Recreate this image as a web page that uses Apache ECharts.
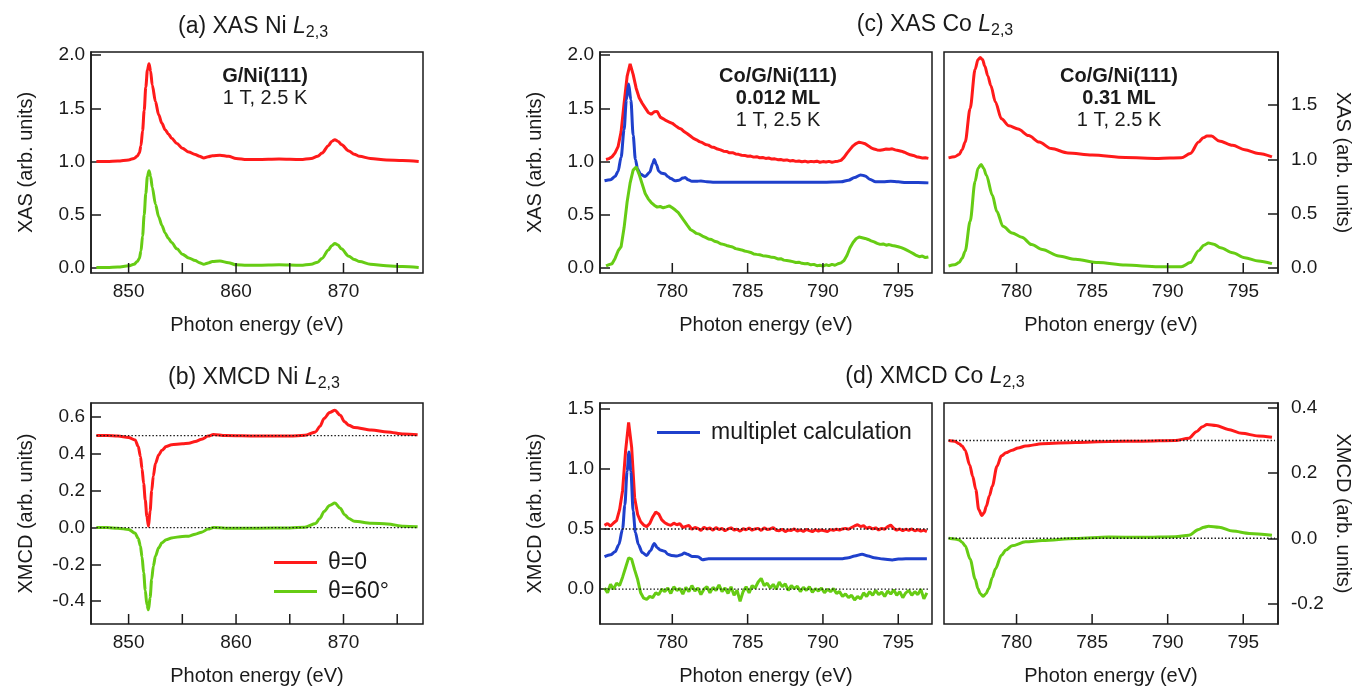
<!DOCTYPE html>
<html><head><meta charset="utf-8">
<script src="https://cdn.jsdelivr.net/npm/echarts@6/dist/echarts.min.js"></script>
<style>html,body{margin:0;padding:0;background:#fff}#c{width:1356px;height:687px}</style>
</head><body><div id="c"></div>
<script>
// ---------------- DATA ----------------
// (a) XAS Ni L2,3  [photon energy eV, XAS]
const niXasRed = [[847,1.0],[848,1.0],[849,1.005],[850,1.015],[850.5,1.03],[850.8,1.05],[851,1.08],[851.15,1.15],[851.3,1.29],[851.45,1.48],[851.6,1.7],[851.75,1.86],[851.9,1.92],[852.05,1.85],[852.2,1.72],[852.5,1.565],[852.8,1.44],[853.1,1.36],[853.4,1.3],[853.7,1.26],[854,1.22],[854.5,1.17],[855,1.125],[855.6,1.09],[856.2,1.066],[856.6,1.05],[857,1.034],[857.4,1.045],[857.8,1.055],[858.5,1.06],[859.3,1.05],[860,1.03],[861,1.02],[862,1.02],[864,1.025],[866,1.02],[867,1.03],[867.6,1.05],[868,1.08],[868.6,1.15],[868.9,1.19],[869.2,1.205],[869.5,1.19],[869.8,1.16],[870.5,1.1],[871,1.07],[871.5,1.05],[872.5,1.03],[874,1.015],[875.5,1.01],[877,1.0]];
const niXasGreen = [[847,0.005],[848,0.005],[849,0.01],[850,0.02],[850.5,0.035],[850.8,0.06],[851,0.09],[851.15,0.16],[851.3,0.3],[851.45,0.5],[851.6,0.7],[851.75,0.86],[851.9,0.915],[852.05,0.86],[852.2,0.76],[852.5,0.6],[852.8,0.48],[853.1,0.4],[853.4,0.33],[853.7,0.28],[854,0.24],[854.5,0.18],[855,0.13],[855.6,0.095],[856.2,0.07],[856.6,0.05],[857,0.035],[857.4,0.048],[857.8,0.06],[858.5,0.065],[859.3,0.05],[860,0.03],[861,0.025],[862,0.025],[864,0.03],[866,0.025],[867,0.035],[867.6,0.055],[868,0.09],[868.6,0.17],[868.9,0.21],[869.2,0.23],[869.5,0.215],[869.8,0.18],[870.5,0.11],[871,0.08],[871.5,0.06],[872.5,0.035],[874,0.02],[875.5,0.015],[877,0.005]];
// (b) XMCD Ni L2,3
const niXmcdRed = [[847,0.5],[848,0.5],[849,0.497],[850,0.49],[850.6,0.476],[850.9,0.44],[851.1,0.386],[851.25,0.32],[851.4,0.24],[851.55,0.15],[851.7,0.06],[851.85,0.007],[852.0,0.09],[852.15,0.2],[852.3,0.28],[852.5,0.35],[852.8,0.395],[853.1,0.42],[853.5,0.44],[854,0.45],[855,0.455],[855.6,0.458],[856.2,0.468],[856.8,0.48],[857.4,0.497],[857.9,0.506],[859,0.5],[862,0.497],[865,0.497],[866.4,0.502],[867.4,0.52],[867.8,0.55],[868.2,0.593],[868.7,0.625],[869.2,0.638],[869.7,0.61],[870.1,0.575],[870.5,0.556],[871,0.544],[872.6,0.53],[874.1,0.52],[875.6,0.508],[876.9,0.505]];
const niXmcdGreen = [[847,0],[848,0],[849,-0.004],[850,-0.01],[850.6,-0.03],[850.9,-0.06],[851.1,-0.1],[851.25,-0.16],[851.4,-0.245],[851.55,-0.34],[851.7,-0.42],[851.85,-0.447],[852.0,-0.38],[852.15,-0.28],[852.3,-0.21],[852.5,-0.155],[852.8,-0.11],[853.1,-0.083],[853.5,-0.066],[854,-0.056],[855,-0.048],[855.6,-0.047],[856.2,-0.036],[856.8,-0.025],[857.4,-0.008],[857.9,0.0],[859,-0.003],[862,-0.003],[865,-0.002],[866.4,0.002],[867.4,0.022],[867.8,0.05],[868.2,0.088],[868.7,0.12],[869.2,0.133],[869.7,0.105],[870.1,0.07],[870.5,0.05],[871,0.034],[872.6,0.023],[874.1,0.02],[875.6,0.007],[876.9,0.004]];
const niXmcdRef = [[[847,0.5],[876.9,0.5]],[[847,0],[876.9,0]]];

// (c) XAS Co L2,3, 0.012 ML (measured, noisy) and multiplet calculation
const coLowXasRed = [[775.6,1.020],[775.8,1.028],[776.0,1.046],[776.2,1.082],[776.4,1.140],[776.6,1.280],[776.8,1.550],[777.0,1.800],[777.2,1.918],[777.4,1.820],[777.6,1.690],[777.8,1.600],[778.0,1.548],[778.2,1.505],[778.4,1.462],[778.6,1.445],[778.8,1.468],[779.0,1.472],[779.2,1.418],[779.4,1.402],[779.6,1.384],[779.8,1.372],[780.0,1.360],[780.2,1.338],[780.4,1.318],[780.6,1.306],[780.8,1.280],[781.0,1.262],[781.2,1.240],[781.4,1.218],[781.6,1.205],[781.8,1.188],[782.0,1.178],[782.2,1.160],[782.4,1.155],[782.6,1.138],[782.8,1.132],[783.0,1.118],[783.2,1.110],[783.4,1.098],[783.6,1.095],[783.8,1.082],[784.0,1.084],[784.2,1.072],[784.4,1.068],[784.6,1.060],[784.8,1.058],[785.0,1.050],[785.2,1.052],[785.4,1.042],[785.6,1.046],[785.8,1.036],[786.0,1.038],[786.2,1.030],[786.4,1.034],[786.6,1.024],[786.8,1.026],[787.0,1.018],[787.2,1.020],[787.4,1.012],[787.6,1.016],[787.8,1.006],[788.0,1.010],[788.2,1.002],[788.4,1.006],[788.6,0.998],[788.8,1.004],[789.0,0.996],[789.2,1.002],[789.4,0.998],[789.6,1.004],[789.8,0.994],[790.0,1.000],[790.2,0.996],[790.4,1.002],[790.6,0.994],[790.8,1.000],[791.0,1.004],[791.2,1.012],[791.4,1.040],[791.6,1.080],[791.8,1.115],[792.0,1.148],[792.2,1.170],[792.4,1.182],[792.6,1.176],[792.8,1.168],[793.0,1.148],[793.2,1.130],[793.4,1.118],[793.6,1.110],[793.8,1.106],[794.0,1.112],[794.2,1.118],[794.4,1.116],[794.6,1.120],[794.8,1.110],[795.0,1.104],[795.2,1.098],[795.4,1.088],[795.6,1.076],[795.8,1.064],[796.0,1.058],[796.2,1.046],[796.4,1.040],[796.6,1.034],[796.8,1.036],[797.0,1.030]];
const coLowXasGreen = [[775.6,0.020],[775.8,0.032],[776.0,0.040],[776.2,0.090],[776.4,0.160],[776.6,0.200],[776.8,0.380],[777.0,0.620],[777.2,0.800],[777.4,0.920],[777.6,0.950],[777.8,0.880],[778.0,0.790],[778.2,0.700],[778.4,0.650],[778.6,0.615],[778.8,0.590],[779.0,0.572],[779.2,0.578],[779.4,0.566],[779.6,0.574],[779.8,0.584],[780.0,0.566],[780.2,0.545],[780.4,0.520],[780.6,0.480],[780.8,0.440],[781.0,0.400],[781.2,0.362],[781.4,0.345],[781.6,0.325],[781.8,0.318],[782.0,0.300],[782.2,0.288],[782.4,0.272],[782.6,0.268],[782.8,0.252],[783.0,0.245],[783.2,0.228],[783.4,0.222],[783.6,0.212],[783.8,0.204],[784.0,0.198],[784.2,0.182],[784.4,0.176],[784.6,0.170],[784.8,0.160],[785.0,0.154],[785.2,0.146],[785.4,0.132],[785.6,0.128],[785.8,0.125],[786.0,0.116],[786.2,0.112],[786.4,0.108],[786.6,0.100],[786.8,0.098],[787.0,0.085],[787.2,0.088],[787.4,0.074],[787.6,0.070],[787.8,0.066],[788.0,0.060],[788.2,0.052],[788.4,0.055],[788.6,0.044],[788.8,0.040],[789.0,0.042],[789.2,0.030],[789.4,0.034],[789.6,0.022],[789.8,0.026],[790.0,0.018],[790.2,0.030],[790.4,0.022],[790.6,0.034],[790.8,0.026],[791.0,0.040],[791.2,0.048],[791.4,0.070],[791.6,0.120],[791.8,0.190],[792.0,0.240],[792.2,0.275],[792.4,0.292],[792.6,0.285],[792.8,0.278],[793.0,0.268],[793.2,0.255],[793.4,0.246],[793.6,0.232],[793.8,0.222],[794.0,0.226],[794.2,0.214],[794.4,0.220],[794.6,0.212],[794.8,0.206],[795.0,0.200],[795.2,0.192],[795.4,0.180],[795.6,0.165],[795.8,0.150],[796.0,0.135],[796.2,0.118],[796.4,0.106],[796.6,0.112],[796.8,0.098],[797.0,0.104]];
const coLowXasCalc = [[775.5,0.82],[775.9,0.83],[776.2,0.86],[776.4,0.91],[776.6,1.04],[776.8,1.30],[776.95,1.58],[777.1,1.73],[777.25,1.58],[777.4,1.25],[777.55,1.02],[777.7,0.93],[777.9,0.88],[778.2,0.86],[778.5,0.90],[778.7,0.98],[778.8,1.02],[778.95,0.97],[779.1,0.91],[779.3,0.89],[779.5,0.885],[779.7,0.86],[779.9,0.84],[780.2,0.82],[780.45,0.825],[780.7,0.845],[780.85,0.85],[781.05,0.83],[781.3,0.815],[781.6,0.815],[781.9,0.818],[782.3,0.81],[782.8,0.806],[785,0.805],[790,0.805],[791.2,0.81],[791.7,0.825],[792.1,0.85],[792.5,0.875],[792.8,0.865],[793.1,0.835],[793.5,0.81],[794.0,0.81],[794.5,0.815],[795.0,0.81],[795.5,0.803],[796.3,0.803],[797.0,0.80]];
// (c) XAS Co L2,3, 0.31 ML
const coHighXasRed = [[775.5,1.015],[775.9,1.025],[776.2,1.046],[776.4,1.09],[776.6,1.16],[776.93,1.47],[777.26,1.83],[777.45,1.92],[777.6,1.94],[777.75,1.92],[777.9,1.86],[778.1,1.77],[778.3,1.68],[778.6,1.53],[779.0,1.375],[779.5,1.31],[780.1,1.28],[780.8,1.22],[781.5,1.16],[782.3,1.10],[783.4,1.06],[785.0,1.04],[787.2,1.018],[789.4,1.01],[790.9,1.015],[791.5,1.055],[792.05,1.16],[792.35,1.2],[792.6,1.216],[792.9,1.216],[793.4,1.17],[794.3,1.13],[795.1,1.09],[796.0,1.055],[796.9,1.024]];
const coHighXasGreen = [[775.5,0.018],[775.9,0.03],[776.2,0.05],[776.4,0.09],[776.6,0.155],[776.93,0.43],[777.26,0.80],[777.45,0.92],[777.66,0.954],[777.82,0.92],[778.0,0.857],[778.4,0.67],[778.7,0.52],[779.1,0.384],[779.7,0.323],[780.35,0.284],[781.0,0.216],[781.7,0.17],[782.8,0.11],[783.9,0.08],[785.4,0.05],[787.2,0.027],[789.4,0.012],[790.9,0.012],[791.5,0.05],[792.05,0.16],[792.4,0.21],[792.7,0.23],[793.05,0.22],[793.5,0.186],[794.3,0.14],[795.1,0.095],[796.0,0.064],[796.9,0.04]];

// (d) XMCD Co L2,3, 0.012 ML
const coLowXmcdRed = [[775.5,0.530],[775.7,0.545],[775.9,0.525],[776.1,0.550],[776.3,0.570],[776.5,0.660],[776.7,0.820],[776.9,1.150],[777.1,1.385],[777.3,1.180],[777.5,0.760],[777.7,0.620],[777.9,0.560],[778.1,0.532],[778.3,0.520],[778.5,0.545],[778.7,0.600],[778.9,0.640],[779.1,0.625],[779.3,0.575],[779.5,0.552],[779.7,0.538],[779.9,0.530],[780.1,0.548],[780.3,0.535],[780.5,0.545],[780.7,0.512],[780.9,0.522],[781.1,0.530],[781.3,0.498],[781.5,0.512],[781.7,0.505],[781.9,0.488],[782.1,0.515],[782.3,0.500],[782.5,0.508],[782.7,0.490],[782.9,0.512],[783.1,0.495],[783.3,0.505],[783.5,0.485],[783.7,0.500],[783.9,0.510],[784.1,0.492],[784.3,0.498],[784.5,0.482],[784.7,0.502],[784.9,0.494],[785.1,0.508],[785.3,0.490],[785.5,0.500],[785.7,0.505],[785.9,0.488],[786.1,0.510],[786.3,0.495],[786.5,0.500],[786.7,0.512],[786.9,0.490],[787.1,0.485],[787.3,0.498],[787.5,0.478],[787.7,0.492],[787.9,0.488],[788.1,0.500],[788.3,0.482],[788.5,0.492],[788.7,0.480],[788.9,0.496],[789.1,0.486],[789.3,0.478],[789.5,0.494],[789.7,0.482],[789.9,0.492],[790.1,0.485],[790.3,0.478],[790.5,0.495],[790.7,0.488],[790.9,0.498],[791.1,0.490],[791.3,0.500],[791.5,0.505],[791.7,0.498],[791.9,0.512],[792.1,0.525],[792.3,0.535],[792.5,0.520],[792.7,0.528],[792.9,0.505],[793.1,0.515],[793.3,0.500],[793.5,0.510],[793.7,0.492],[793.9,0.505],[794.1,0.498],[794.3,0.520],[794.5,0.532],[794.7,0.505],[794.9,0.490],[795.1,0.500],[795.3,0.485],[795.5,0.498],[795.7,0.488],[795.9,0.500],[796.1,0.485],[796.3,0.495],[796.5,0.482],[796.7,0.490],[796.9,0.478]];
const coLowXmcdGreen = [[775.5,0.010],[775.7,-0.030],[775.9,0.040],[776.1,0.000],[776.3,0.050],[776.5,0.030],[776.7,0.100],[776.9,0.180],[777.1,0.260],[777.3,0.250],[777.5,0.160],[777.7,0.080],[777.9,-0.030],[778.1,-0.075],[778.3,-0.085],[778.5,-0.060],[778.7,-0.070],[778.9,-0.030],[779.1,-0.045],[779.3,0.000],[779.5,-0.020],[779.7,0.010],[779.9,-0.035],[780.1,0.020],[780.3,-0.010],[780.5,0.005],[780.7,-0.040],[780.9,0.015],[781.1,-0.020],[781.3,0.030],[781.5,-0.015],[781.7,0.010],[781.9,-0.045],[782.1,0.000],[782.3,0.020],[782.5,-0.030],[782.7,0.015],[782.9,-0.010],[783.1,0.035],[783.3,-0.020],[783.5,0.010],[783.7,-0.035],[783.9,0.020],[784.1,-0.050],[784.3,-0.010],[784.5,-0.100],[784.7,-0.020],[784.9,0.020],[785.1,-0.030],[785.3,0.030],[785.5,0.010],[785.7,0.060],[785.9,0.090],[786.1,0.030],[786.3,0.050],[786.5,0.010],[786.7,0.040],[786.9,0.000],[787.1,0.060],[787.3,0.020],[787.5,0.045],[787.7,-0.010],[787.9,0.030],[788.1,0.005],[788.3,0.025],[788.5,-0.020],[788.7,0.015],[788.9,-0.010],[789.1,0.020],[789.3,-0.025],[789.5,0.005],[789.7,-0.015],[789.9,0.010],[790.1,-0.030],[790.3,0.000],[790.5,-0.020],[790.7,0.005],[790.9,-0.035],[791.1,-0.020],[791.3,-0.060],[791.5,-0.040],[791.7,-0.070],[791.9,-0.050],[792.1,-0.090],[792.3,-0.060],[792.5,-0.080],[792.7,-0.030],[792.9,-0.060],[793.1,-0.020],[793.3,-0.050],[793.5,-0.010],[793.7,-0.045],[793.9,-0.025],[794.1,-0.060],[794.3,-0.015],[794.5,-0.040],[794.7,-0.005],[794.9,-0.050],[795.1,-0.020],[795.3,-0.070],[795.5,-0.030],[795.7,-0.010],[795.9,-0.050],[796.1,-0.020],[796.3,-0.045],[796.5,0.000],[796.7,-0.080],[796.9,-0.030]];
const coLowXmcdCalc = [[775.5,0.27],[775.9,0.285],[776.2,0.31],[776.45,0.37],[776.7,0.50],[776.85,0.70],[777.0,0.98],[777.12,1.14],[777.25,0.98],[777.4,0.65],[777.55,0.47],[777.75,0.37],[778.0,0.305],[778.3,0.28],[778.55,0.32],[778.8,0.38],[779.0,0.345],[779.2,0.325],[779.5,0.315],[779.7,0.29],[779.95,0.28],[780.3,0.275],[780.6,0.285],[780.8,0.30],[781.0,0.29],[781.3,0.272],[781.7,0.27],[782.0,0.245],[782.4,0.253],[786,0.252],[791.2,0.253],[791.7,0.262],[792.1,0.275],[792.6,0.29],[793.0,0.275],[793.4,0.262],[794.0,0.25],[794.6,0.243],[795.0,0.25],[795.5,0.253],[796.9,0.253]];
const coLowXmcdRef = [[[775.5,0.5],[797.0,0.5]],[[775.5,0],[797.0,0]]];
// (d) XMCD Co L2,3, 0.31 ML
const coHighXmcdRed = [[775.5,0.30],[775.9,0.298],[776.2,0.29],[776.4,0.283],[776.6,0.27],[776.9,0.225],[777.1,0.19],[777.3,0.15],[777.5,0.088],[777.7,0.07],[777.85,0.078],[778.0,0.098],[778.2,0.13],[778.4,0.16],[778.7,0.22],[779.0,0.253],[779.3,0.262],[779.7,0.27],[780.1,0.277],[780.6,0.283],[781.7,0.29],[783.9,0.294],[786.1,0.297],[788.3,0.298],[790.5,0.3],[791.4,0.307],[791.9,0.327],[792.3,0.342],[792.6,0.349],[793.2,0.346],[794.0,0.334],[794.9,0.322],[796.0,0.314],[796.9,0.31]];
const coHighXmcdGreen = [[775.5,0.0],[775.9,-0.002],[776.2,-0.005],[776.4,-0.012],[776.6,-0.023],[776.93,-0.064],[777.26,-0.125],[777.45,-0.155],[777.6,-0.17],[777.8,-0.178],[777.98,-0.17],[778.15,-0.155],[778.4,-0.12],[778.6,-0.094],[779.0,-0.052],[779.3,-0.036],[779.7,-0.023],[780.6,-0.011],[781.7,-0.007],[783.9,-0.001],[786.1,0.004],[788.3,0.003],[790.5,0.005],[791.4,0.009],[792.05,0.027],[792.4,0.034],[792.7,0.037],[793.4,0.034],[794.3,0.022],[795.4,0.015],[796.9,0.009]];
const coHighXmcdRef = [[[775.5,0.3],[797.1,0.3]],[[775.5,0],[797.1,0]]];

// tick values
const niTicks = [850,855,860,865,870,875];
const niLabels = [850,860,870];
const coTicks = [780,785,790,795];
const xasTicks = [0,0.5,1.0,1.5,2.0];
const xasRightTicks = [0,0.5,1.0,1.5];
const niXmcdTicks = [-0.4,-0.2,0,0.2,0.4,0.6];
const coLowXmcdTicks = [0,0.5,1.0,1.5];
const coHighXmcdTicks = [-0.2,0,0.2,0.4];

// ---------------- STYLE / LAYOUT ----------------
const FONT = '"Liberation Sans", Arial, Helvetica, sans-serif';
const INK = '#1a1a1a';
const RED = '#ff1a1a', GREEN = '#66cc14', BLUE = '#1f40cc';
const TICK_LEN = 10;

const grids = [
  {left:91, top:52, width:332, height:221},
  {left:91, top:403, width:332, height:222},
  {left:600, top:52, width:332, height:221},
  {left:944, top:52, width:334, height:221},
  {left:600, top:403, width:332, height:222},
  {left:944, top:403, width:334, height:222}
].map(g => Object.assign({show:true, borderColor:INK, borderWidth:1.5, backgroundColor:'transparent'}, g));

function xAx(gi, min, max, labels) {
  return {type:'value', gridIndex:gi, min, max,
    name:'Photon energy (eV)', nameLocation:'middle', nameGap:42,
    nameTextStyle:{fontSize:20, color:INK, fontFamily:FONT},
    axisLine:{show:false, onZero:false}, splitLine:{show:false},
    axisTick:{show:false},
    axisLabel:{customValues:labels, fontSize:19, color:INK, fontFamily:FONT, margin:9, formatter:v => String(Math.round(v))}};
}
function yAx(gi, min, max, ticks, pos, name, nameGap, margin) {
  const a = {type:'value', gridIndex:gi, min, max, position:pos,
    axisLine:{show:true, onZero:false, lineStyle:{color:INK, width:1.5}}, splitLine:{show:false},
    axisTick:{show:true, inside:true, length:TICK_LEN, lineStyle:{color:INK, width:1.5}, customValues:ticks},
    axisLabel:{customValues:ticks, fontSize:19, color:INK, fontFamily:FONT, margin:margin, formatter:v => v.toFixed(1)}};
  if (name) {
    a.name = name; a.nameLocation = 'middle'; a.nameGap = nameGap;
    a.nameRotate = pos === 'right' ? -90 : 90;
    a.nameTextStyle = {fontSize:20, color:INK, fontFamily:FONT};
  }
  return a;
}
// inward tick marks on the bottom edge of each box, placed through the x scale
function xTicks(gi, ticks) {
  return {type:'custom', name:'xticks', xAxisIndex:gi, yAxisIndex:gi, clip:false, silent:true, z:6,
    data: ticks.map(v => [v]),
    encode:{x:0},
    renderItem: (params, api) => {
      const cs = params.coordSys;
      const px = api.coord([api.value(0), 0])[0];
      const bottom = cs.y + cs.height;
      return {type:'line', shape:{x1:px, y1:bottom, x2:px, y2:bottom - TICK_LEN},
              style:{stroke:INK, lineWidth:1.5}};
    }};
}
function curve(name, gi, data, color, smooth) {
  return {type:'line', name, xAxisIndex:gi, yAxisIndex:gi, data, symbol:'none', showSymbol:false,
    smooth: smooth ? 0.3 : false, smoothMonotone:'x',
    lineStyle:{color, width:3}, itemStyle:{color}, z:2, silent:true};
}
function refLine(gi, data) {
  return {type:'line', name:'ref', xAxisIndex:gi, yAxisIndex:gi, data, symbol:'none', showSymbol:false,
    lineStyle:{color:INK, width:1.3, type:[1.5,2]}, itemStyle:{color:INK}, z:5, silent:true};
}

const series = [
  curve('θ=0', 0, niXasRed, RED, true),
  curve('θ=60°', 0, niXasGreen, GREEN, true),
  curve('θ=0', 1, niXmcdRed, RED, true),
  curve('θ=60°', 1, niXmcdGreen, GREEN, true),
  refLine(1, niXmcdRef[0]), refLine(1, niXmcdRef[1]),
  curve('θ=0', 2, coLowXasRed, RED, false),
  curve('multiplet calculation', 2, coLowXasCalc, BLUE, true),
  curve('θ=60°', 2, coLowXasGreen, GREEN, false),
  curve('θ=0', 3, coHighXasRed, RED, true),
  curve('θ=60°', 3, coHighXasGreen, GREEN, true),
  curve('θ=0', 4, coLowXmcdRed, RED, false),
  curve('multiplet calculation', 4, coLowXmcdCalc, BLUE, true),
  curve('θ=60°', 4, coLowXmcdGreen, GREEN, false),
  refLine(4, coLowXmcdRef[0]), refLine(4, coLowXmcdRef[1]),
  curve('θ=0', 5, coHighXmcdRed, RED, true),
  curve('θ=60°', 5, coHighXmcdGreen, GREEN, true),
  refLine(5, coHighXmcdRef[0]), refLine(5, coHighXmcdRef[1]),
  xTicks(0, niTicks), xTicks(1, niTicks),
  xTicks(2, coTicks), xTicks(3, coTicks), xTicks(4, coTicks), xTicks(5, coTicks)
];

function titleText(x, y, label) {
  return {type:'text', x, y, silent:true, style:{
    text: label + ' {i|L}{s|2,3}', fill:INK, fontFamily:FONT, fontSize:23,
    align:'center', verticalAlign:'middle', textAlign:'center', textVerticalAlign:'middle',
    rich:{ i:{fontStyle:'italic', fontSize:23, fontFamily:FONT, fill:INK},
           s:{fontSize:16, fontFamily:FONT, fill:INK, padding:[12,0,0,0]} }}};
}
function noteText(x, y, lines) {
  return {type:'text', x, y, silent:true, style:{
    text: lines.join('\n'), fill:INK, fontFamily:FONT, fontSize:20, lineHeight:22.3,
    align:'center', verticalAlign:'middle', textAlign:'center', textVerticalAlign:'middle',
    rich:{ b:{fontWeight:'bold', fontSize:20, fontFamily:FONT, fill:INK, lineHeight:22.3},
           n:{fontSize:20, fontFamily:FONT, fill:INK, lineHeight:22.3} }}};
}

const legendCommon = {orient:'vertical', icon:'rect', itemWidth:43, itemHeight:3, itemGap:6, selectedMode:false,
  textStyle:{fontSize:23, color:INK, fontFamily:FONT, lineHeight:22, padding:[0,0,0,6]}};

const option = {
  animation:false,
  backgroundColor:'#ffffff',
  grid: grids,
  xAxis: [
    xAx(0, 846.5, 877.4, niLabels),
    xAx(1, 846.5, 877.4, niLabels),
    xAx(2, 775.2, 797.24, coTicks),
    xAx(3, 775.2, 797.3, coTicks),
    xAx(4, 775.2, 797.24, coTicks),
    xAx(5, 775.2, 797.3, coTicks)
  ],
  yAxis: [
    yAx(0, -0.047, 2.03, xasTicks, 'left', 'XAS (arb. units)', 55, 6),
    yAx(1, -0.524, 0.677, niXmcdTicks, 'left', 'XMCD (arb. units)', 55, 6),
    yAx(2, -0.047, 2.03, xasTicks, 'left', 'XAS (arb. units)', 55, 6),
    yAx(3, -0.046, 1.99, xasRightTicks, 'right', 'XAS (arb. units)', 55, 13),
    yAx(4, -0.289, 1.546, coLowXmcdTicks, 'left', 'XMCD (arb. units)', 55, 6),
    yAx(5, -0.263, 0.415, coHighXmcdTicks, 'right', 'XMCD (arb. units)', 55, 13)
  ],
  legend: [
    Object.assign({left:269, top:546, data:['θ=0','θ=60°']}, legendCommon),
    Object.assign({left:652, top:416, data:['multiplet calculation']}, legendCommon)
  ],
  series,
  graphic: [
    titleText(253, 27, '(a) XAS Ni'),
    titleText(254, 378, '(b) XMCD Ni'),
    titleText(935, 25, '(c) XAS Co'),
    titleText(935, 377, '(d) XMCD Co'),
    noteText(265, 87.5, ['{b|G/Ni(111)}', '{n|1 T, 2.5 K}']),
    noteText(778, 98.3, ['{b|Co/G/Ni(111)}', '{b|0.012 ML}', '{n|1 T, 2.5 K}']),
    noteText(1119, 98.3, ['{b|Co/G/Ni(111)}', '{b|0.31 ML}', '{n|1 T, 2.5 K}'])
  ]
};
const chart = echarts.init(document.getElementById('c'), null, {renderer:'canvas', width:1356, height:687});
chart.setOption(option);
</script>
</body></html>
